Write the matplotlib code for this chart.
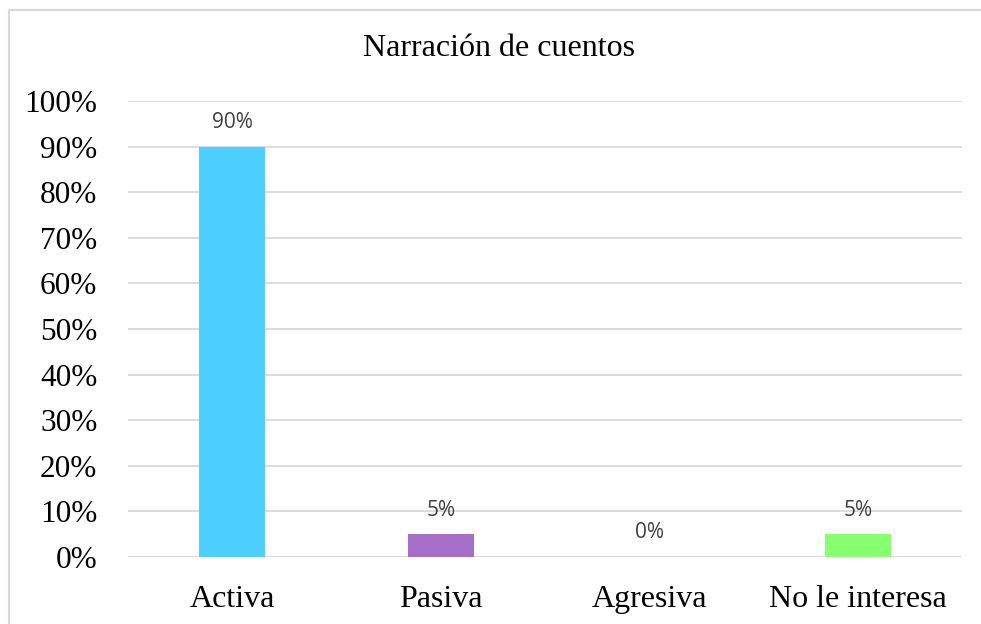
import matplotlib.pyplot as plt
from matplotlib.patches import Rectangle

categorias = ["Activa", "Pasiva", "Agresiva", "No le interesa"]
valores = [90, 5, 0, 5]
colores = ["#4DCFFF", "#A66FC7", "#FFFFFF", "#88FF70"]
etiquetas = ["90%", "5%", "0%", "5%"]
ticks_y = list(range(0, 101, 10))

W, H = 981, 624
fig = plt.figure(figsize=(W / 100, H / 100), dpi=100)

# marco gris del grafico (sale por la derecha y abajo)
fig.patches.append(Rectangle((9 / W, -0.1), 1.2, 1 - 10 / H + 0.1,
                             transform=fig.transFigure, fill=False,
                             edgecolor="#D9D9D9", linewidth=1.5))

ax = fig.add_axes([128 / W, 1 - 557 / H, (962 - 128) / W, (557 - 101) / H])
x = range(len(categorias))
ax.bar(x, valores, width=0.317, color=colores, zorder=3)

ax.set_xlim(-0.5, len(categorias) - 0.5)
ax.set_ylim(0, 100)
ax.set_yticks(ticks_y)
ax.set_yticklabels([f"{t}%" for t in ticks_y], family="Liberation Serif", fontsize=22.5)
ax.set_xticks(list(x))
ax.set_xticklabels(categorias, family="Liberation Serif", fontsize=23)
ax.tick_params(length=0)
ax.tick_params(axis="y", pad=22)
ax.tick_params(axis="x", pad=20)
ax.yaxis.grid(True, color="#D9D9D9", linewidth=1.3, zorder=0)
for s in ax.spines.values():
    s.set_visible(False)

for i, (v, t) in enumerate(zip(valores, etiquetas)):
    ax.annotate(t, (i, v), xytext=(0, 24), textcoords="offset pixels",
                ha="center", va="center", family="Open Sans",
                fontsize=15, color="#404040")

fig.text(499 / W, 1 - 49 / H, "Narración de cuentos", ha="center", va="center",
         family="Liberation Serif", fontsize=23)

fig.savefig("out.png", dpi=100)
